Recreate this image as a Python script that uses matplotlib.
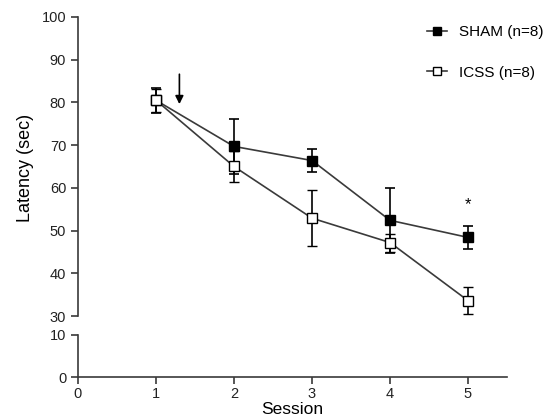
import matplotlib.pyplot as plt
from matplotlib.lines import Line2D

plt.rcParams['font.family'] = ['Liberation Sans', 'DejaVu Sans']

sessions = [1, 2, 3, 4, 5]
sham_mean = [80.5, 69.7, 66.4, 52.4, 48.4]
sham_sem = [2.9, 6.5, 2.6, 7.6, 2.7]
icss_mean = [80.5, 65.0, 52.9, 47.2, 33.6]
icss_sem = [2.7, 3.6, 6.6, 2.1, 3.1]
labels = ['SHAM (n=8)', 'ICSS (n=8)']

top_ticks = [30, 40, 50, 60, 70, 80, 90, 100]
bottom_ticks = [0, 10]
x_ticks = [0, 1, 2, 3, 4, 5]

LINE = '#3a3a3a'


def style(ax):
    ax.spines['top'].set_visible(False)
    ax.spines['right'].set_visible(False)
    ax.spines['left'].set_color(LINE)
    ax.spines['bottom'].set_color(LINE)
    ax.spines['left'].set_linewidth(1.2)
    ax.spines['bottom'].set_linewidth(1.2)
    ax.tick_params(colors=LINE, labelcolor='#222222', labelsize=10.5, width=1.2, length=5)


def main():
    fig = plt.figure(figsize=(5.51, 4.19), dpi=100)
    ax = fig.add_axes([78/551, 103/419, 429/551, 299/419])
    axb = fig.add_axes([78/551, 42/419, 429/551, 42/419])

    for a in (ax, axb):
        a.errorbar(sessions, sham_mean, yerr=sham_sem, color=LINE, ecolor='black',
                   lw=1.2, elinewidth=1.2, capsize=3.5, capthick=1.2,
                   marker='s', ms=6.5, mfc='black', mec='black', zorder=2)
        a.errorbar(sessions, icss_mean, yerr=icss_sem, color=LINE, ecolor='black',
                   lw=1.2, elinewidth=1.2, capsize=3.5, capthick=1.2,
                   marker='s', ms=6.5, mfc='white', mec='black', mew=1.0, zorder=3)
        a.set_xlim(0, 5.5)
        style(a)

    ax.set_ylim(30, 100)
    ax.set_yticks(top_ticks)
    ax.spines['bottom'].set_visible(False)
    ax.tick_params(axis='x', bottom=False, labelbottom=False)

    axb.set_ylim(0, 10)
    axb.set_yticks(bottom_ticks)
    axb.set_xticks(x_ticks)
    axb.tick_params(axis='x', pad=2)
    axb.set_xlabel('Session', fontsize=12.5, labelpad=1)

    fig.text(25/551, 0.6, 'Latency (sec)', rotation=90, fontsize=13,
             ha='center', va='center')

    ax.annotate('', xy=(1.3, 79.6), xytext=(1.3, 86.6),
                arrowprops=dict(arrowstyle='-|>', color='black', lw=1.2,
                                mutation_scale=12, shrinkA=0, shrinkB=0))
    ax.text(5, 56.0, '*', ha='center', va='center', fontsize=12)

    handles = [
        Line2D([], [], color=LINE, lw=1.2, marker='s', ms=5.5, mfc='black', mec='black'),
        Line2D([], [], color=LINE, lw=1.2, marker='s', ms=5.5, mfc='white', mec='black'),
    ]
    fig.legend(handles, labels, loc='upper left', bbox_to_anchor=(427/551, 1 - 25/419),
               frameon=False, fontsize=11, handlelength=1.3, handletextpad=0.8,
               labelspacing=1.75, borderaxespad=0, borderpad=0)

    fig.savefig('out.png', dpi=100)


if __name__ == '__main__':
    main()
